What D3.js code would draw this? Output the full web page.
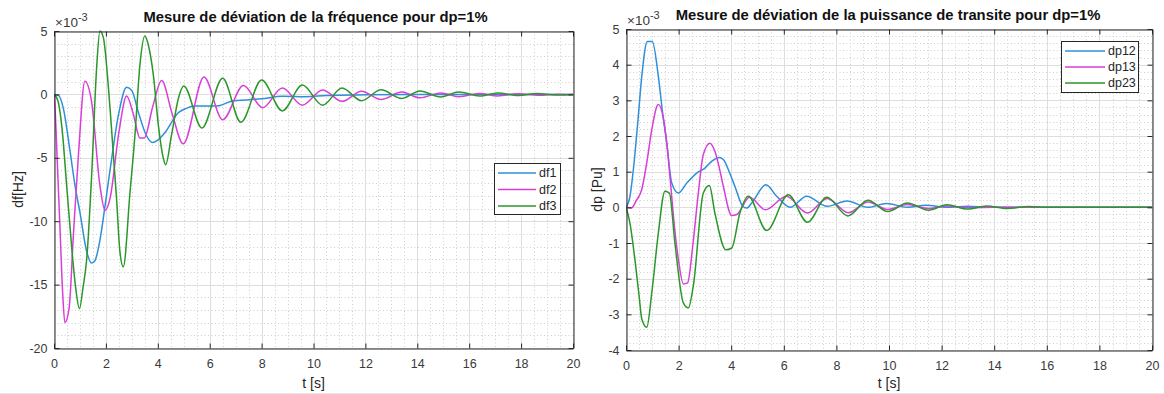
<!DOCTYPE html>
<html>
<head>
<meta charset="utf-8">
<script src="https://cdn.jsdelivr.net/npm/d3@7"></script>
<style>
  body { margin: 0; background: #fff; }
  svg { display: block; font-family: "Liberation Sans", Arial, sans-serif; }
</style>
</head>
<body>
<svg id="chart" width="1164" height="394"></svg>
<script>
// ---- data (values in units of 1e-3) ----
const xTicks = [0, 2, 4, 6, 8, 10, 12, 14, 16, 18, 20];

// frequency deviation
const dfNames = ["df1", "df2", "df3"];
const df1Time = [0, 0.17, 0.36, 0.62, 0.81, 1.0, 1.26, 1.45, 1.58, 1.77, 2.0, 2.22, 2.48, 2.8, 3.0, 3.25, 3.55, 3.8, 4.0, 4.28, 4.79, 5.1, 5.4, 5.8, 6.14, 6.4, 6.9, 7.43, 8.0, 8.8, 9.7, 10.5, 12, 14, 20];
const df1Vals = [0, -0.08, -1.1, -4.5, -7.2, -9.3, -12.4, -13.3, -13.1, -11.5, -8.3, -5.1, -1.66, 0.56, 0.3, -1.4, -3.2, -3.8, -3.6, -3.0, -1.45, -1.1, -0.92, -0.92, -0.92, -0.87, -0.5, -0.44, -0.35, -0.15, -0.18, -0.08, -0.03, 0, 0];
const df2Time = [0, 0.05, 0.12, 0.23, 0.33, 0.42, 0.58, 0.75, 0.95, 1.19, 1.45, 1.77, 1.97, 2.16, 2.5, 2.8, 3.05, 3.31, 3.48, 3.8, 4.15, 4.55, 4.98, 5.78, 6.5, 7.3, 8.04, 8.8, 9.57, 10.35, 11.1, 11.85, 12.6, 13.4, 14.1, 14.9, 15.6, 16.4, 17.1, 17.9, 18.7, 19.4, 20];
const df2Vals = [0, -1.5, -5, -10.5, -15.5, -18.0, -16.9, -11, -4.5, 1.03, -0.6, -7.2, -9.15, -8.2, -3, -0.13, -1.5, -3.44, -3.44, -1, 1.1, -1.5, -3.9, 1.37, -2.0, 0.7, -1.05, 0.5, -0.85, 0.35, -0.55, 0.25, -0.4, 0.18, -0.27, 0.12, -0.18, 0.08, -0.12, 0.05, -0.06, 0.02, 0];
const df3Time = [0, 0.15, 0.3, 0.5, 0.7, 0.85, 0.98, 1.12, 1.26, 1.45, 1.64, 1.77, 1.9, 2.16, 2.41, 2.54, 2.67, 2.93, 3.12, 3.31, 3.5, 3.64, 3.83, 4.02, 4.21, 4.3, 4.53, 4.79, 5.0, 5.7, 6.5, 7.2, 8.0, 8.8, 9.57, 10.35, 11.1, 11.85, 12.6, 13.4, 14.1, 14.9, 15.6, 16.4, 17.1, 17.9, 18.6, 19.4, 20];
const df3Vals = [0, -0.5, -2.5, -7.5, -12.5, -15.5, -16.9, -15.2, -13, -6.4, 2, 5.0, 4.5, -1.1, -8.2, -12.4, -13.6, -7.7, -3.2, 2.3, 4.6, 3.86, 1.5, -2.4, -5, -5.55, -3.2, -0.34, 0.66, -2.65, 1.27, -2.2, 1.14, -1.3, 0.74, -0.85, 0.5, -0.5, 0.37, -0.32, 0.27, -0.2, 0.18, -0.13, 0.12, -0.08, 0.07, -0.04, 0];

// transit power deviation
const dpNames = ["dp12", "dp13", "dp23"];
const dp12Time = [0, 0.15, 0.28, 0.45, 0.6, 0.81, 1.0, 1.23, 1.4, 1.55, 1.74, 1.99, 2.31, 2.69, 3.0, 3.26, 3.54, 3.7, 3.95, 4.14, 4.44, 4.59, 4.78, 5.32, 5.73, 6.24, 6.87, 7.65, 8.4, 9.2, 9.9, 10.7, 11.4, 12.2, 13, 13.7, 20];
const dp12Vals = [0, 0.3, 1.06, 2.4, 3.67, 4.65, 4.65, 3.67, 2.6, 1.8, 0.68, 0.4, 0.68, 0.96, 1.1, 1.29, 1.4, 1.34, 0.95, 0.59, 0.03, -0.02, 0.12, 0.63, 0.31, 0.0, 0.31, 0.03, 0.18, 0.0, 0.11, 0.0, 0.06, 0.0, 0.03, 0, 0];
const dp13Time = [0, 0.2, 0.4, 0.6, 0.8, 0.98, 1.23, 1.42, 1.55, 1.67, 1.85, 2.0, 2.18, 2.34, 2.55, 2.75, 2.94, 3.19, 3.38, 3.55, 3.7, 4.02, 4.21, 4.7, 5.3, 6.1, 6.9, 7.65, 8.45, 9.2, 9.95, 10.7, 11.5, 12.2, 13, 14, 20];
const dp13Vals = [0, -0.02, 0.2, 0.5, 1.3, 2.18, 2.88, 2.5, 1.8, 0.87, -0.6, -1.5, -2.15, -2.12, -1, 0.4, 1.48, 1.8, 1.57, 1.1, 0.59, -0.23, -0.2, 0.28, -0.07, 0.31, -0.16, 0.25, -0.15, 0.15, -0.06, 0.08, -0.03, 0.04, -0.01, 0, 0];
const dp23Time = [0, 0.15, 0.34, 0.5, 0.6, 0.79, 0.98, 1.23, 1.48, 1.65, 1.86, 2.18, 2.37, 2.56, 2.94, 3.17, 3.38, 3.8, 4.02, 4.33, 4.65, 5.35, 6.17, 6.9, 7.63, 8.44, 9.2, 9.95, 10.7, 11.5, 12.2, 13, 13.7, 14.5, 15.3, 16, 20];
const dp23Vals = [0, -0.44, -1.47, -2.5, -3.13, -3.36, -2.4, -0.72, 0.45, 0.4, -1.0, -2.68, -2.82, -2.2, 0.4, 0.61, -0.16, -1.19, -1.14, -0.16, 0.31, -0.65, 0.35, -0.42, 0.28, -0.24, 0.2, -0.12, 0.12, -0.08, 0.07, -0.05, 0.04, -0.03, 0.02, 0, 0];

const lineColors = ["#2f8fd8", "#d83ed8", "#2a972a"];

const svg = d3.select("#chart");

// bottom edge of the screenshot
svg.append("line")
  .attr("x1", 0).attr("x2", 1164).attr("y1", 393.5).attr("y2", 393.5)
  .style("stroke", "#e8e8e8");

function drawPanel(p) {
  const g = svg.append("g");

  const x = d3.scaleLinear().domain([0, 20]).range([p.left, p.right]);
  const y = d3.scaleLinear().domain(p.yDomain).range([p.bottom, p.top]);

  // minor grid
  const xMinor = d3.range(0, 41).map(i => i * 0.5).filter(v => v % 2 !== 0);
  const nY = Math.round((p.yDomain[1] - p.yDomain[0]) / p.yMinor);
  const yMinor = d3.range(0, nY + 1).map(i => +(p.yDomain[0] + i * p.yMinor).toFixed(3))
    .filter(v => p.yTicks.indexOf(v) < 0);

  g.append("g").selectAll("line").data(xMinor).join("line")
    .attr("x1", d => Math.round(x(d)) + 0.5).attr("x2", d => Math.round(x(d)) + 0.5)
    .attr("y1", p.top).attr("y2", p.bottom)
    .style("stroke", "#cfcfcf").style("stroke-dasharray", "1,2.5");
  g.append("g").selectAll("line").data(yMinor).join("line")
    .attr("x1", p.left).attr("x2", p.right)
    .attr("y1", d => Math.round(y(d)) + 0.5).attr("y2", d => Math.round(y(d)) + 0.5)
    .style("stroke", "#cfcfcf").style("stroke-dasharray", "1,2.5");

  // major grid
  g.append("g").selectAll("line").data(xTicks).join("line")
    .attr("x1", d => Math.round(x(d)) + 0.5).attr("x2", d => Math.round(x(d)) + 0.5)
    .attr("y1", p.top).attr("y2", p.bottom)
    .style("stroke", "#dedede");
  g.append("g").selectAll("line").data(p.yTicks).join("line")
    .attr("x1", p.left).attr("x2", p.right)
    .attr("y1", d => Math.round(y(d)) + 0.5).attr("y2", d => Math.round(y(d)) + 0.5)
    .style("stroke", "#dedede");

  // curves
  const clipId = "clip-" + p.id;
  g.append("clipPath").attr("id", clipId)
    .append("rect").attr("x", p.left).attr("y", p.top - 1)
    .attr("width", p.right - p.left).attr("height", p.bottom - p.top + 2);

  const line = d3.line()
    .x(d => x(d[0]))
    .y(d => y(d[1]))
    .curve(d3.curveMonotoneX);

  g.append("g").attr("clip-path", `url(#${clipId})`)
    .selectAll("path").data(p.series).join("path")
    .attr("d", d => line(d3.zip(d.time, d.vals)))
    .style("fill", "none")
    .style("stroke", (d, i) => lineColors[i])
    .style("stroke-width", 1.5);

  // axes (ticks pointing inward, box on)
  const fmt = d => String(d);
  g.append("g")
    .attr("transform", `translate(0,${p.bottom + 0.5})`)
    .call(d3.axisBottom(x).tickValues(xTicks).tickSizeInner(-5).tickSizeOuter(0).tickPadding(11).tickFormat(fmt));
  g.append("g")
    .attr("transform", `translate(0,${p.top + 0.5})`)
    .call(d3.axisTop(x).tickValues(xTicks).tickSizeInner(-5).tickSizeOuter(0).tickFormat(""));
  g.append("g")
    .attr("transform", `translate(${p.left + 0.5},0)`)
    .call(d3.axisLeft(y).tickValues(p.yTicks).tickSizeInner(-5).tickSizeOuter(0).tickPadding(7).tickFormat(fmt));
  g.append("g")
    .attr("transform", `translate(${p.right + 0.5},0)`)
    .call(d3.axisRight(y).tickValues(p.yTicks).tickSizeInner(-5).tickSizeOuter(0).tickFormat(""));

  g.selectAll(".domain, .tick line").style("stroke", "#262626");
  g.selectAll(".tick text")
    .style("font-family", '"Liberation Sans", Arial, sans-serif')
    .style("font-size", "12.5px")
    .style("fill", "#3a3a3a");

  // exponent label
  const expo = g.append("text")
    .attr("x", p.left + 1)
    .attr("y", p.top - 4)
    .style("font-size", "13.5px")
    .style("fill", "#3a3a3a");
  expo.append("tspan").text("×10");
  expo.append("tspan").attr("dy", -6).style("font-size", "11px").text("-3");

  // title
  g.append("text")
    .attr("x", (p.left + p.right) / 2 + p.titleShift)
    .attr("y", p.titleY)
    .attr("text-anchor", "middle")
    .style("font-size", "14.8px")
    .style("font-weight", "bold")
    .style("fill", "#111")
    .text(p.title);

  // axis labels
  g.append("text")
    .attr("x", (p.left + p.right) / 2)
    .attr("y", 388)
    .attr("text-anchor", "middle")
    .style("font-size", "14px")
    .style("fill", "#262626")
    .text("t [s]");

  g.append("text")
    .attr("transform", `translate(${p.yLabelX},${(p.top + p.bottom) / 2}) rotate(-90)`)
    .attr("text-anchor", "middle")
    .style("font-size", "14px")
    .style("fill", "#262626")
    .text(p.yLabel);

  // legend
  const lg = g.append("g").attr("transform", `translate(${p.legend.x},${p.legend.y})`);
  lg.append("rect")
    .attr("x", 0.5).attr("y", 0.5)
    .attr("width", p.legend.w).attr("height", p.legend.h)
    .style("fill", "#fff").style("stroke", "#262626");
  const items = lg.selectAll("g.item").data(p.names).join("g")
    .attr("class", "item")
    .attr("transform", (d, i) => `translate(0,${p.legend.first + i * p.legend.step})`);
  items.append("line")
    .attr("x1", 4).attr("x2", p.legend.lineEnd)
    .style("stroke", (d, i) => lineColors[i])
    .style("stroke-width", 1.5);
  items.append("text")
    .attr("x", p.legend.lineEnd + 3)
    .attr("dy", "0.35em")
    .style("font-size", "12.5px")
    .style("fill", "#262626")
    .text(d => d);
}

drawPanel({
  id: "freq",
  left: 54, right: 573, top: 31, bottom: 348,
  yDomain: [-20, 5],
  yTicks: [-20, -15, -10, -5, 0, 5],
  yMinor: 1,
  title: "Mesure de déviation de la fréquence pour dp=1%",
  titleY: 22, titleShift: 2,
  yLabel: "df[Hz]", yLabelX: 23,
  names: dfNames,
  series: [
    { time: df1Time, vals: df1Vals },
    { time: df2Time, vals: df2Vals },
    { time: df3Time, vals: df3Vals }
  ],
  legend: { x: 494, y: 163, w: 66, h: 51, first: 10, step: 16.5, lineEnd: 42 }
});

drawPanel({
  id: "power",
  left: 626, right: 1152, top: 29, bottom: 350,
  yDomain: [-4, 5],
  yTicks: [-4, -3, -2, -1, 0, 1, 2, 3, 4, 5],
  yMinor: 0.2,
  title: "Mesure de déviation de la puissance de transite pour dp=1%",
  titleY: 20, titleShift: -1,
  yLabel: "dp [Pu]", yLabelX: 602,
  names: dpNames,
  series: [
    { time: dp12Time, vals: dp12Vals },
    { time: dp13Time, vals: dp13Vals },
    { time: dp23Time, vals: dp23Vals }
  ],
  legend: { x: 1061, y: 41, w: 77, h: 51, first: 10, step: 16, lineEnd: 44 }
});
</script>
</body>
</html>
